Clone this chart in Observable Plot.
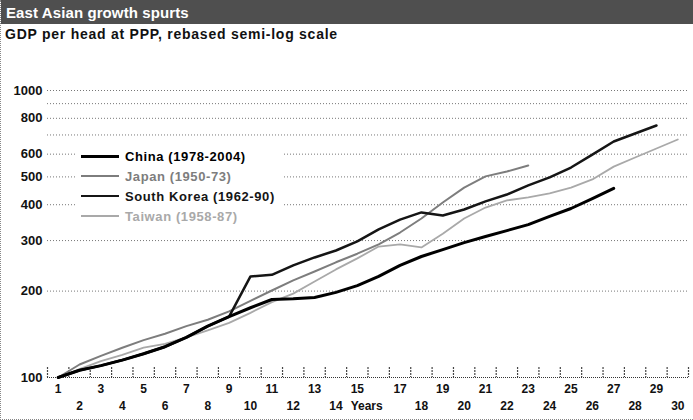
<!DOCTYPE html>
<html><head><meta charset="utf-8">
<script src="https://cdn.jsdelivr.net/npm/d3@7"></script>
<script src="https://cdn.jsdelivr.net/npm/@observablehq/plot@0.6"></script>
<style>
body{margin:0;background:#fff;}
#wrap{position:relative;width:692px;height:419px;border-left:1px dotted #888;border-bottom:1px dotted #888;font-family:"Liberation Sans",Arial,sans-serif;overflow:hidden;}
#title{height:24px;background:#4f4f4f;color:#fff;font-weight:bold;font-size:15px;line-height:25px;padding-left:5px;letter-spacing:0.1px;}
#sub{height:20px;font-weight:bold;font-size:14px;line-height:21px;padding-left:4px;color:#111;letter-spacing:0.75px;}
#legend{position:absolute;left:76px;top:146px;background:#fff;padding:0 8px 0 4px;}
.row{display:flex;align-items:center;height:20px;font-weight:bold;font-size:13px;letter-spacing:0.6px;}
.sw{width:38px;margin-right:6px;}
</style></head><body>
<div id="wrap"><div id="title">East Asian growth spurts</div><div id="sub">GDP per head at PPP, rebased semi-log scale</div><div id="chart"></div><div id="legend"></div></div>
<script>
// Values (index, first year = 100)
const years = d3.range(1, 31);
const china = [100,106,110,115,121,128,138,151,163,175,187,188,190,198,209,225,246,264,279,295,310,325,341,364,388,420,456];
const southKorea = [100,106,110,115,121,128,138,151,163,225,228,246,262,277,298,328,355,376,367,385,411,434,467,498,539,598,664,708,755];
const japan = [100,111,119,127,135,142,151,159,170,185,201,218,234,252,270,291,320,358,407,459,502,522,548];
const taiwan = [100,107,114,120,127,131,138,146,155,168,183,196,216,238,260,286,291,284,317,358,391,414,424,438,459,490,543,584,628,675];

const seriesNames = ["China (1978-2004)", "Japan (1950-73)", "South Korea (1962-90)", "Taiwan (1958-87)"];
const seriesColors = ["#000000", "#7d7d7d", "#151515", "#a9a9a9"];
const seriesWidths = [3, 2, 2.5, 1.8];
const seriesValues = [china, japan, southKorea, taiwan];

const yTicks = [100, 200, 300, 400, 500, 600, 800, 1000];
const yGrid = [200, 300, 400, 500, 600, 700, 800, 900, 1000];
const oddLabels = years.filter(d => d % 2 === 1);
const evenLabels = years.filter(d => d % 2 === 0 && d !== 16);
const xBounds = d3.range(0, 31).map(i => i + 0.5);

const tables = seriesValues.map((vals, i) => vals.map((v, j) => ({series: seriesNames[i], year: years[j], value: v})));

const drawOrder = [3, 1, 2, 0];

const chart = Plot.plot({
  width: 692,
  height: 375,
  marginLeft: 46,
  marginRight: 5,
  marginTop: 46,
  marginBottom: 42,
  style: {fontFamily: "'Liberation Sans', Arial, sans-serif", fontSize: "12px", fontWeight: "bold", background: "#fff", color: "#111"},
  x: {domain: [0.5, 30.5], axis: null},
  y: {type: "log", domain: [100, 1000]},
  marks: [
    Plot.gridY(yGrid, {stroke: "#777", strokeOpacity: 1, strokeDasharray: "1,2"}),
    Plot.ruleY([100], {stroke: "#333", strokeDasharray: "1,1"}),
    Plot.tickX(xBounds, {x: d => d, insetTop: 277, stroke: "#444", strokeWidth: 1.2, strokeDasharray: "2,1"}),
    Plot.axisY({ticks: yTicks, tickSize: 0, tickPadding: 5, tickFormat: d => String(d), label: null, fontSize: 13, fontWeight: "bold"}),
    Plot.text(oddLabels, {x: d => d, frameAnchor: "bottom", dy: 15, text: d => String(d), fontSize: 12, fontWeight: "bold", fill: "#111"}),
    Plot.text(evenLabels, {x: d => d, frameAnchor: "bottom", dy: 32, text: d => String(d), fontSize: 12, fontWeight: "bold", fill: "#111"}),
    Plot.text(["Years"], {x: 16, frameAnchor: "bottom", dy: 32, dx: 4, textAnchor: "end", text: d => d, fontSize: 12, fontWeight: "bold", fill: "#111"}),
    ...drawOrder.map(i => Plot.line(tables[i], {x: "year", y: "value", stroke: seriesColors[i], strokeWidth: seriesWidths[i], curve: "linear"}))
  ]
});
document.getElementById("chart").appendChild(chart);

const legend = document.getElementById("legend");
seriesNames.forEach((name, i) => {
  const row = document.createElement("div");
  row.className = "row";
  row.style.color = seriesColors[i];
  const sw = document.createElement("div");
  sw.className = "sw";
  sw.style.height = seriesWidths[i] + "px";
  sw.style.background = seriesColors[i];
  row.appendChild(sw);
  const t = document.createElement("span");
  t.textContent = name;
  row.appendChild(t);
  legend.appendChild(row);
});
</script></body></html>
